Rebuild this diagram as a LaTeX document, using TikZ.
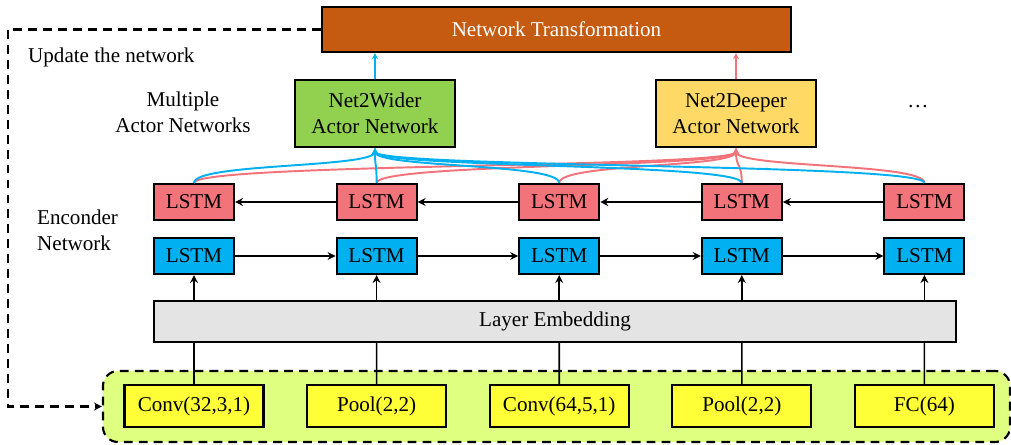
\documentclass[tikz,border=0pt]{standalone}
\usepackage{fontspec}
\setmainfont{Liberation Serif}
\usetikzlibrary{arrows.meta,positioning,calc}
\definecolor{transorange}{HTML}{C55A11}
\definecolor{widergreen}{HTML}{92D050}
\definecolor{deeperyellow}{HTML}{FFD966}
\definecolor{fwdblue}{HTML}{00B0F0}
\definecolor{bwdred}{HTML}{F2737A}
\definecolor{embedgray}{HTML}{E4E4E4}
\definecolor{layeryellow}{HTML}{FFFF38}
\definecolor{regiongreen}{HTML}{DEFF80}
\tikzset{
	block/.style={
		rectangle,
		draw=black,
		line width=1.2pt,
		inner sep=1pt,
		minimum width=1.6cm,
		minimum height=0.72cm,
	},
	fwd/.style={
		block,
		fill=fwdblue,
	},
	bwd/.style={
		block,
		fill=bwdred,
	},
	layer/.style={
		block,
		fill=layeryellow,
		minimum width=2.78cm,
		minimum height=0.84cm,
	},
	actor/.style={
		block,
		align=center,
		minimum width=3.2cm,
		minimum height=1.34cm,
	},
}

\begin{document}
\begin{tikzpicture}[font=\fontsize{12}{15}\selectfont, node distance=2.01cm]

				\tikzstyle{link}=[-{Stealth[length=4.5pt,width=4.5pt]},line width=0.9pt]
				\tikzstyle{tiny}=[-{Stealth[length=3.5pt,width=3.5pt]},line width=1.1pt]

				\useasboundingbox (0,0) rectangle (20.22,8.88);

				% network under search
				\node [rectangle, rounded corners=0.3cm, draw=black, dashed, dash pattern=on 5pt off 3.5pt, line width=1.2pt, fill=regiongreen, minimum width=18.14cm, minimum height=1.42cm] (seq) at (11.13,0.75) {};
				\node [layer] (c1) at (3.88,0.76) {Conv(32,3,1)};
				\node [layer] (p1) [right=0.83cm of c1] {Pool(2,2)};
				\node [layer] (c2) [right=0.83cm of p1] {Conv(64,5,1)};
				\node [layer] (p2) [right=0.83cm of c2] {Pool(2,2)};
				\node [layer] (fc) [right=0.83cm of p2] {FC(64)};

				\node [block, fill=embedgray, minimum width=16.04cm, minimum height=0.82cm] (emb) at (11.1,2.45) {Layer Embedding};

				% encoder
				\node [fwd] (f1) at (3.88,3.76) {LSTM};
				\node [fwd] (f2) [right=of f1] {LSTM};
				\node [fwd] (f3) [right=of f2] {LSTM};
				\node [fwd] (f4) [right=of f3] {LSTM};
				\node [fwd] (f5) [right=of f4] {LSTM};

				\node [bwd] (b1) at (3.88,4.84) {LSTM};
				\node [bwd] (b2) [right=of b1] {LSTM};
				\node [bwd] (b3) [right=of b2] {LSTM};
				\node [bwd] (b4) [right=of b3] {LSTM};
				\node [bwd] (b5) [right=of b4] {LSTM};

				% actors
				\node [actor, fill=widergreen] (wider) at (7.5,6.61) {Net2Wider\\Actor Network};
				\node [actor, fill=deeperyellow] (deeper) at (14.72,6.61) {Net2Deeper\\Actor Network};
				\node (more) at (18.36,6.74) {\dots};

				\node [block, fill=transorange, text=white, minimum width=9.38cm, minimum height=0.9cm] (trans) at (11.13,8.29) {Network Transformation};

				% labels
				\node [align=center] (actlabel) at (3.66,6.64) {Multiple\\Actor Networks};
				\node [anchor=west] (uplabel) at (0.44,7.74) {Update the network};
				\node [align=left, anchor=west] (enclabel) at (0.62,4.28) {Enconder\\Network};

				% connections
				\foreach \l/\n in {c1/1, p1/2, c2/3, p2/4, fc/5} {
					\draw [line width=0.9pt] (\l.north) -- (emb.south -| f\n);
					\draw [link] (emb.north -| f\n) -- (f\n.south);
				}
				\foreach \a/\b in {1/2, 2/3, 3/4, 4/5} {
					\draw [link] (f\a) -- (f\b);
					\draw [link] (b\b) -- (b\a);
				}
				\foreach \i in {1,...,5} {
					\draw [tiny, draw=bwdred] (b\i.north) .. controls +(0,0.4) and +(0,-0.4) .. (deeper.south);
				}
				\foreach \i in {1,...,5} {
					\draw [tiny, draw=fwdblue] (b\i.north) .. controls +(0,0.4) and +(0,-0.4) .. (wider.south);
				}
				\draw [tiny, draw=fwdblue] (wider) -- (trans.south -| wider);
				\draw [tiny, draw=bwdred] (deeper) -- (trans.south -| deeper);

				\coordinate (back) at (0.16,0.75);
				\draw [-{Stealth[length=4.5pt,width=4.5pt]}, dashed, dash pattern=on 5pt off 3.5pt, line width=1.2pt] (trans.west) -| (back) -- (seq.west);
			\end{tikzpicture}
\end{document}
